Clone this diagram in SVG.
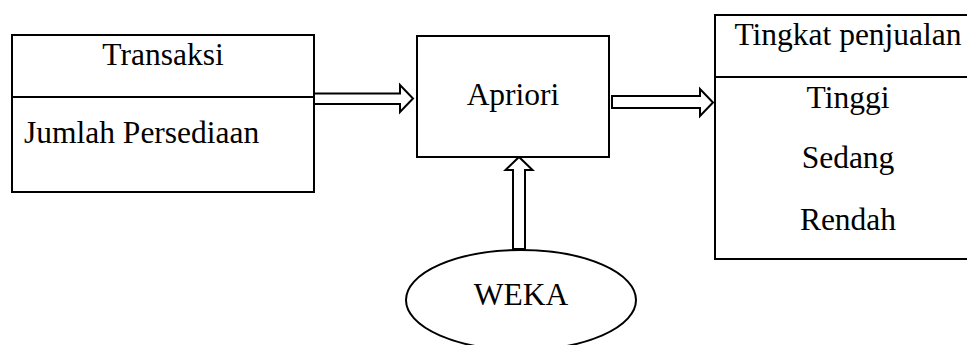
<svg xmlns="http://www.w3.org/2000/svg" width="967" height="345" viewBox="0 0 967 345">
<style>
.box{fill:#fff;stroke:#000;stroke-width:2}
.arr{fill:#fff;stroke:#000;stroke-width:2;stroke-linejoin:miter}
text{font-family:"Liberation Serif","Times New Roman",serif;font-size:31.5px;fill:#000}
.c{text-anchor:middle}
</style>
<rect width="967" height="345" fill="#fff"/>
<g id="connectors">
<polygon class="arr" points="314,93.5 400,93.5 400,85 413,98.5 400,112 400,104 314,104"/>
<polygon class="arr" points="612,96 700,96 700,89 713,102.5 700,116 700,108 612,108"/>
<polygon class="arr" points="513,249 513,170 505.5,170 519,157 532.5,170 525,170 525,249"/>
</g>
<g id="input">
<rect class="box" x="12" y="35" width="302" height="157"/>
<line x1="12" y1="97" x2="314" y2="97" stroke="#000" stroke-width="2"/>
<text class="c" x="163" y="65">Transaksi</text>
<text x="24" y="143">Jumlah Persediaan</text>
</g>
<g id="apriori">
<rect class="box" x="417" y="36" width="192" height="121"/>
<text class="c" x="513" y="105">Apriori</text>
</g>
<g id="weka">
<ellipse class="box" cx="521" cy="300" rx="115" ry="50"/>
<text class="c" x="521" y="305">WEKA</text>
</g>
<g id="output">
<rect class="box" x="715" y="15" width="270" height="244"/>
<line x1="715" y1="77" x2="985" y2="77" stroke="#000" stroke-width="2"/>
<text class="c" x="848" y="45">Tingkat penjualan</text>
<text class="c" x="848" y="108">Tinggi</text>
<text class="c" x="848" y="168">Sedang</text>
<text class="c" x="848" y="230">Rendah</text>
</g>
</svg>
